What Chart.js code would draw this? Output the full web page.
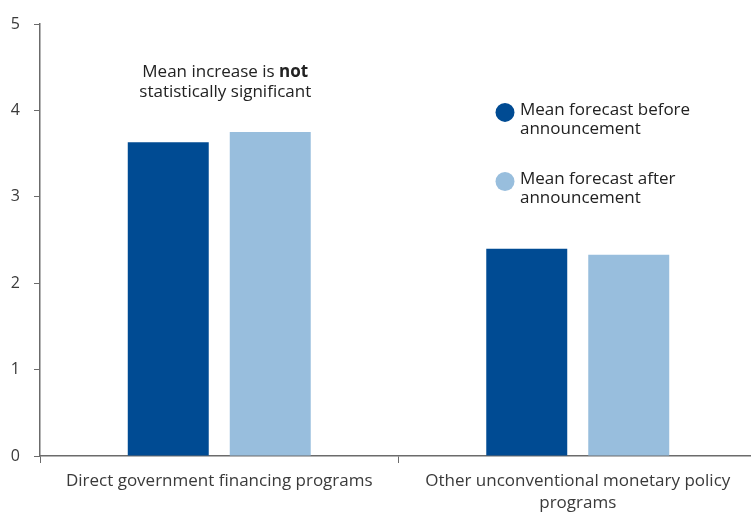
<!DOCTYPE html>
<html>
<head>
<meta charset="utf-8">
<script src="https://cdn.jsdelivr.net/npm/chart.js@4"></script>
<style>
  html, body { margin: 0; padding: 0; background: #fff; overflow: hidden; }
  #wrap { width: 751px; height: 514px; overflow: hidden; }
</style>
</head>
<body>
<div id="wrap"><canvas id="chart" width="757" height="514"></canvas></div>
<script>
// Dados
const categories = ['Direct government financing programs', ['Other unconventional monetary policy', 'programs']];
const seriesNames = [['Mean forecast before', 'announcement'], ['Mean forecast after', 'announcement']];
const beforeValues = [3.63, 2.40];
const afterValues = [3.75, 2.33];
const yTicks = [0, 1, 2, 3, 4, 5];

const darkBlue = '#004B93';
const lightBlue = '#98BEDD';
const axisGrey = '#6b6b6b';
const textColor = '#3a3a3a';
const fontFamily = '"Open Sans", sans-serif';

// Nota sobre significância + legenda desenhadas à mão
const notesPlugin = {
    id: 'notes',
    afterDraw(chart) {
        const ctx = chart.ctx;
        const xs = chart.scales.x;
        const ys = chart.scales.y;
        const regular = '17px ' + fontFamily;
        const bold = 'bold 17px ' + fontFamily;
        ctx.save();
        ctx.fillStyle = '#222';
        ctx.textBaseline = 'middle';

        // anotação acima do primeiro grupo
        const cx = xs.getPixelForValue(0) + 6;
        const l1a = 'Mean increase is ';
        const l1b = 'not';
        ctx.font = regular;
        const w1a = ctx.measureText(l1a).width;
        ctx.font = bold;
        const w1b = ctx.measureText(l1b).width;
        const x1 = cx - (w1a + w1b) / 2;
        const yLine1 = ys.getPixelForValue(4.44);
        ctx.textAlign = 'left';
        ctx.font = regular;
        ctx.fillText(l1a, x1, yLine1);
        ctx.font = bold;
        ctx.fillText(l1b, x1 + w1a, yLine1);
        ctx.font = regular;
        ctx.textAlign = 'center';
        ctx.fillText('statistically significant', cx, yLine1 + 20);

        // legenda
        const colors = [darkBlue, lightBlue];
        const lx = chart.chartArea.left + 465;
        const lyStart = [ys.getPixelForValue(4.0), ys.getPixelForValue(3.2)];
        ctx.textAlign = 'left';
        seriesNames.forEach((lines, i) => {
            ctx.fillStyle = colors[i];
            ctx.beginPath();
            ctx.arc(lx, lyStart[i] + 2, 9.5, 0, Math.PI * 2);
            ctx.fill();
            ctx.fillStyle = '#222';
            lines.forEach((t, j) => ctx.fillText(t, lx + 15, lyStart[i] + j * 19));
        });
        ctx.restore();
    }
};

new Chart(document.getElementById('chart').getContext('2d'), {
    type: 'bar',
    data: {
        labels: categories,
        datasets: [
            { label: 'before', data: beforeValues, backgroundColor: darkBlue, categoryPercentage: 0.569, barPercentage: 0.794 },
            { label: 'after', data: afterValues, backgroundColor: lightBlue, categoryPercentage: 0.569, barPercentage: 0.794 }
        ]
    },
    options: {
        responsive: false,
        animation: false,
        layout: { padding: { top: 24, right: 0, bottom: 0, left: 0 } },
        plugins: {
            legend: { display: false },
            tooltip: { enabled: false }
        },
        scales: {
            x: {
                grid: {
                    offset: true,
                    drawOnChartArea: false,
                    drawTicks: true,
                    tickLength: 7,
                    color: axisGrey
                },
                border: { color: axisGrey, width: 1.5 },
                ticks: {
                    color: textColor,
                    font: { family: fontFamily, size: 17, lineHeight: 1.3 },
                    padding: 7,
                    maxRotation: 0
                },
                afterFit: (scale) => { scale.height = 58; }
            },
            y: {
                min: 0,
                max: 5,
                afterBuildTicks: (scale) => { scale.ticks = yTicks.map(v => ({ value: v })); },
                grid: {
                    drawOnChartArea: false,
                    drawTicks: true,
                    tickLength: 6,
                    color: axisGrey
                },
                border: { color: axisGrey, width: 1.5 },
                ticks: {
                    color: textColor,
                    font: { family: fontFamily, size: 16 },
                    padding: 14
                },
                afterFit: (scale) => { scale.width = 40; }
            }
        }
    },
    plugins: [notesPlugin]
});
</script>
</body>
</html>
